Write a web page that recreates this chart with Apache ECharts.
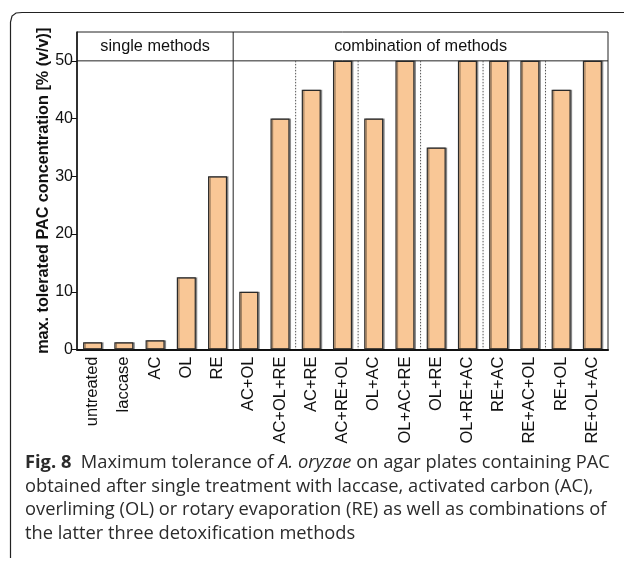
<!DOCTYPE html>
<html><head><meta charset="utf-8">
<script src="https://cdn.jsdelivr.net/npm/echarts@6/dist/echarts.min.js"></script>
<style>html,body{margin:0;padding:0;background:#fff}#c{width:627px;height:561px}</style>
</head><body><div id="c"></div>
<script>
const categories = ['untreated','laccase','AC','OL','RE','AC+OL','AC+OL+RE','AC+RE','AC+RE+OL','OL+AC','OL+AC+RE','OL+RE','OL+RE+AC','RE+AC','RE+AC+OL','RE+OL','RE+OL+AC'];
const values = [1.25,1.25,1.6,12.5,30,10,40,45,50,40,50,35,50,50,50,45,50];
const yTicks = [0,10,20,30,40,50];
const groupLabels = ['single methods','combination of methods'];
const groupStarts = [0,5];
const dottedBoundaries = [7,9,11,13,15];
const yTitle = 'max. tolerated PAC concentration [% (v/v)]';
const captionBold = 'Fig. 8';
const captionLines = [
  ['  Maximum tolerance of ', 'A. oryzae', ' on agar plates containing PAC'],
  'obtained after single treatment with laccase, activated carbon (AC),',
  'overliming (OL) or rotary evaporation (RE) as well as combinations of',
  'the latter three detoxification methods'
];

const chart = echarts.init(document.getElementById('c'), null, {renderer:'canvas'});
const font = 'Liberation Sans, Arial, sans-serif';
const option = {
  animation: false,
  grid: {left: 77, right: 19, top: 32, bottom: 211.5, show: true, borderColor: '#222', borderWidth: 1, backgroundColor: 'transparent'},
  xAxis: {
    type: 'category', data: categories,
    axisLine: {lineStyle: {color: '#111', width: 2.2}},
    axisTick: {alignWithLabel: true, length: 4, lineStyle: {color: '#111', width: 1}},
    axisLabel: {rotate: 90, fontFamily: font, fontSize: 16.5, color: '#111', margin: 7, interval: 0}
  },
  yAxis: {
    type: 'value', min: 0, max: 55, interval: 10,
    name: yTitle, nameLocation: 'middle', nameGap: 25, nameMoveOverlap: false,
    nameTextStyle: {fontFamily: font, fontWeight: 'bold', fontSize: 16.2, color: '#111'},
    axisLine: {show: true, lineStyle: {color: '#111', width: 1.5}},
    axisTick: {show: true, length: 5, customValues: yTicks, lineStyle: {color: '#111', width: 1}},
    axisLabel: {customValues: yTicks, fontFamily: font, fontSize: 16, color: '#111', margin: 4},
    splitLine: {show: false}
  },
  series: [{
    type: 'bar', data: values, barWidth: '61%',
    itemStyle: {color: '#F9C796', borderColor: '#2a2a2a', borderWidth: 1.2, shadowColor: 'rgba(0,0,0,0.35)', shadowOffsetX: 1.5, shadowBlur: 0}
  }]
};
chart.setOption(option);

function bx(i) {
  const a = chart.convertToPixel({xAxisIndex: 0}, categories[Math.max(0, i - 1)]);
  const b = chart.convertToPixel({xAxisIndex: 0}, categories[Math.min(categories.length - 1, i)]);
  if (i === 0) return a - (chart.convertToPixel({xAxisIndex:0}, categories[1]) - a) / 2;
  if (i >= categories.length) return b + (b - chart.convertToPixel({xAxisIndex:0}, categories[categories.length-2])) / 2;
  return (a + b) / 2;
}
const y0 = chart.convertToPixel({yAxisIndex: 0}, 0);
const y50 = chart.convertToPixel({yAxisIndex: 0}, 50);
const yTop = chart.convertToPixel({yAxisIndex: 0}, 55);
const xL = bx(0), xR = bx(categories.length);
const g = [];
g.push({type: 'line', shape: {x1: xL, y1: y50, x2: xR, y2: y50}, style: {stroke: '#222', lineWidth: 1}});
g.push({type: 'line', shape: {x1: bx(groupStarts[1]), y1: yTop, x2: bx(groupStarts[1]), y2: y0}, style: {stroke: '#222', lineWidth: 1}});
dottedBoundaries.forEach(i => {
  const x = bx(i);
  g.push({type: 'line', shape: {x1: x, y1: y50, x2: x, y2: y0}, style: {stroke: '#555', lineWidth: 1, lineDash: [1.5, 1.5]}});
});
const bounds = [bx(groupStarts[0]), bx(groupStarts[1]), xR];
groupLabels.forEach((t, k) => {
  g.push({type: 'text', x: (bounds[k] + bounds[k+1]) / 2, y: (yTop + y50) / 2,
    style: {text: t, fontFamily: font, fontSize: 16.3, fill: '#111', align: 'center', verticalAlign: 'middle'}});
});
g.push({type: 'polyline', shape: {points: [[10.5, 558], [10.5, 22], [12, 16], [16, 13], [22, 12.5], [624, 12.5]], smooth: 0},
  style: {stroke: '#222', lineWidth: 1.2, fill: null}});
const cfont = 'Open Sans, Noto Sans, sans-serif';
const cs = 18.3, lh = 23.7, cc = '#2b2b2b';
const capText = '{b|' + captionBold + '}{n|' + captionLines[0][0] + '}{i|' + captionLines[0][1] + '}{n|' + captionLines[0][2] + '}\n' +
  captionLines.slice(1).map(l => '{n|' + l + '}').join('\n');
g.push({type: 'text', x: 25, y: 451, style: {
  text: capText, fontFamily: cfont, fontSize: cs, fill: cc, lineHeight: lh,
  rich: {
    b: {fontFamily: cfont, fontWeight: 'bold', fontSize: cs, fill: cc, lineHeight: lh},
    n: {fontFamily: cfont, fontSize: cs, fill: cc, lineHeight: lh},
    i: {fontFamily: cfont, fontStyle: 'italic', fontSize: cs, fill: cc, lineHeight: lh}
  }}});
chart.setOption({graphic: g});
</script></body></html>
